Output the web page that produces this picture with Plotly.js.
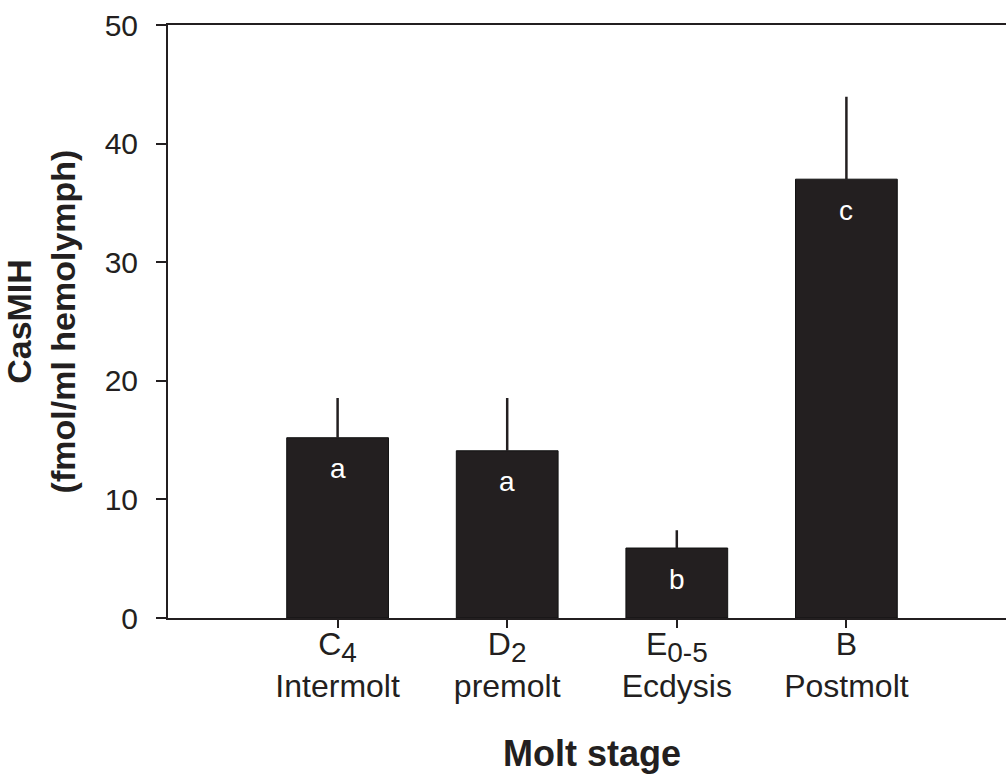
<!DOCTYPE html>
<html>
<head>
<meta charset="utf-8">
<script src="https://cdn.plot.ly/plotly-3.0.1.min.js"></script>
<style>
html, body { margin: 0; padding: 0; overflow: hidden; background: #fff; }
#chart { width: 1024px; height: 774px; }
</style>
</head>
<body>
<div id="chart"></div>
<script>
const stageCodes = ["C", "D", "E", "B"];
const stageSubs = ["4", "2", "0-5", ""];
const stageNames = ["Intermolt", "premolt", "Ecdysis", "Postmolt"];
const means = [15.2, 14.1, 5.9, 37.0];
const errPlus = [3.35, 4.45, 1.5, 6.95];
const letters = ["a", "a", "b", "c"];
const yTicks = [0, 10, 20, 30, 40, 50];

const categories = stageCodes.map((c, i) =>
  c + (stageSubs[i] ? '<sub><span style="font-size:28px">' + stageSubs[i] + '</span></sub>' : '') + '<br>' + stageNames[i]);

const ink = '#231f20';
const fontFam = 'Arial, "Liberation Sans", Helvetica, sans-serif';

const trace = {
  type: 'bar',
  x: categories,
  y: means,
  width: 0.6,
  marker: { color: ink, line: { color: '#111', width: 1 } },
  error_y: {
    type: 'data', symmetric: false,
    array: errPlus,
    arrayminus: means.map(() => 0),
    color: ink, thickness: 2.5, width: 0
  },
  hoverinfo: 'skip'
};

const annotations = letters.map((t, i) => ({
  x: categories[i], y: means[i], xref: 'x', yref: 'y',
  text: t, showarrow: false, yanchor: 'middle', yshift: -31,
  font: { family: fontFam, size: 28, color: '#ffffff' }
}));

const layout = {
  width: 1024, height: 774,
  margin: { l: 168, r: 8, t: 25, b: 156 },
  paper_bgcolor: '#ffffff', plot_bgcolor: '#ffffff',
  showlegend: false,
  font: { family: fontFam, color: ink },
  xaxis: {
    type: 'category',
    range: [-1, 4],
    showline: true, linecolor: ink, linewidth: 2, mirror: true,
    ticks: 'outside', ticklen: 8, tickwidth: 2, tickcolor: ink,
    showgrid: false, zeroline: false,
    ticklabelstandoff: -11,
    tickfont: { family: fontFam, size: 32, color: ink },
    title: { text: '<b>Molt stage</b>', font: { family: fontFam, size: 36, color: ink }, standoff: 40 }
  },
  yaxis: {
    range: [0, 50],
    tickvals: yTicks,
    showline: true, linecolor: ink, linewidth: 2, mirror: true,
    ticks: 'outside', ticklen: 10, tickwidth: 2, tickcolor: ink,
    showgrid: false, zeroline: false,
    ticklabelstandoff: 12,
    tickfont: { family: fontFam, size: 30, color: ink },
    title: { text: '<b>CasMIH<br>(fmol/ml hemolymph)</b>', font: { family: fontFam, size: 34, color: ink }, standoff: 19 }
  },
  annotations: annotations
};

Plotly.newPlot('chart', [trace], layout, { staticPlot: true, displayModeBar: false });
</script>
</body>
</html>
